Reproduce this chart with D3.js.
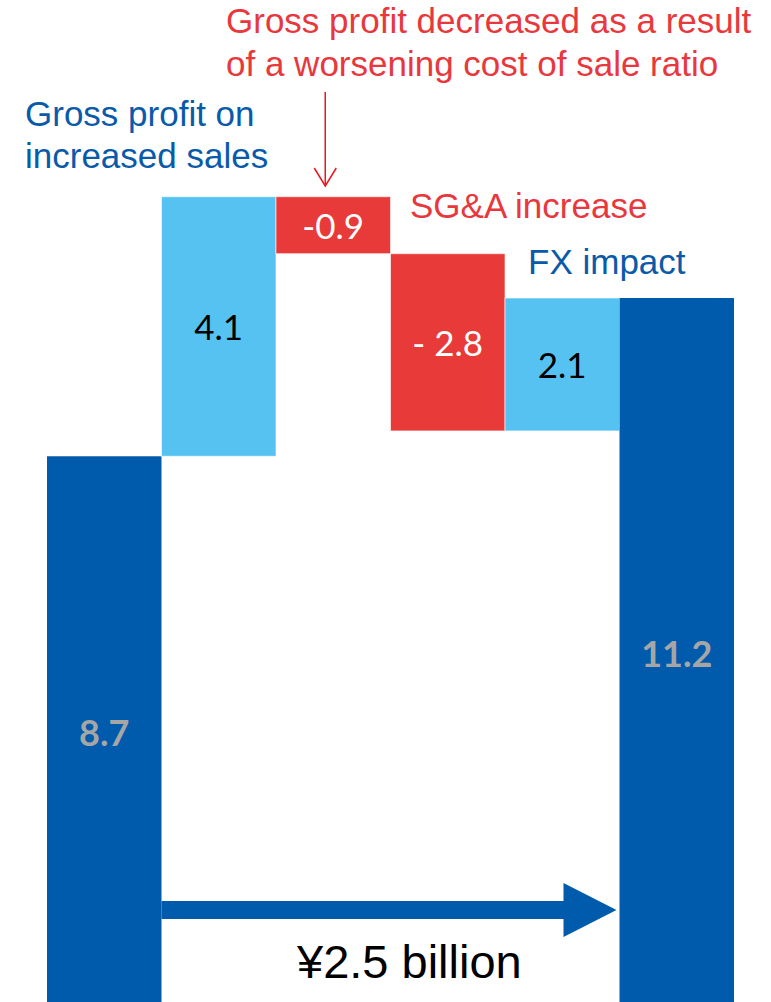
<!DOCTYPE html>
<html lang="en">
<head>
    <meta charset="utf-8">
    <title>Gross profit bridge</title>
    <script src="https://d3js.org/d3.v7.min.js"></script>
    <style>
        body { margin: 0; background: #fff; }
    </style>
</head>
<body>
<div id="chart"></div>
<script>
    // Data (¥ billion)
    const categories = ["start", "sales", "costRatio", "sga", "fx", "end"];
    const values = [8.7, 4.1, -0.9, -2.8, 2.1, 11.2];
    const kinds = ["total", "delta", "delta", "delta", "delta", "total"];
    const valueLabels = ["8.7", "4.1", "-0.9", "- 2.8", "2.1", "11.2"];
    const changeLabel = "¥2.5 billion";

    const width = 771, height = 1002;
    const colors = {total: "#005BAC", up: "#56C2F1", down: "#E83A38"};

    const svg = d3.select("#chart")
        .append("svg")
        .attr("width", width)
        .attr("height", height);

    // Scales
    const x = d3.scaleBand().domain(categories).range([47, 734]).padding(0);
    const y = d3.scaleLinear().domain([0, 11.2]).range([1007, 298]);

    // Build the waterfall pieces
    let running = 0;
    const bars = categories.map((c, i) => {
        let lo, hi;
        if (kinds[i] === "total") {
            lo = 0; hi = values[i]; running = values[i];
        } else {
            const next = running + values[i];
            lo = Math.min(running, next); hi = Math.max(running, next);
            running = next;
        }
        const fill = kinds[i] === "total" ? colors.total : (values[i] >= 0 ? colors.up : colors.down);
        const textFill = kinds[i] === "total" ? "#A6A6A6" : (values[i] >= 0 ? "#000" : "#fff");
        return {cat: c, lo, hi, fill, textFill, label: valueLabels[i], total: kinds[i] === "total"};
    });

    svg.append("g")
        .selectAll("rect")
        .data(bars)
        .join("rect")
        .attr("x", d => x(d.cat))
        .attr("width", x.bandwidth())
        .attr("y", d => y(d.hi))
        .attr("height", d => y(d.lo) - y(d.hi))
        .attr("fill", d => d.fill)
        .attr("stroke", d => d.total ? "none" : "#ffffff")
        .attr("stroke-opacity", 0.6)
        .attr("stroke-width", 1);

    svg.append("g")
        .selectAll("text")
        .data(bars)
        .join("text")
        .attr("x", d => x(d.cat) + x.bandwidth() / 2)
        .attr("y", d => (y(d.lo) + y(d.hi)) / 2)
        .attr("text-anchor", "middle")
        .attr("dominant-baseline", "central")
        .attr("font-family", "Lato, 'Open Sans', sans-serif")
        .attr("font-size", d => d.total ? 36 : 35)
        .attr("font-weight", d => d.total ? "bold" : "normal")
        .attr("fill", d => d.textFill)
        .text(d => d.label);

    // Annotations
    const ann = svg.append("g").attr("font-family", "'Liberation Sans', Arial, sans-serif");

    ann.append("text").attr("x", 226).attr("y", 33).attr("font-size", 35).attr("fill", "#E8383D")
        .text("Gross profit decreased as a result");
    ann.append("text").attr("x", 226).attr("y", 76).attr("font-size", 35).attr("fill", "#E8383D")
        .text("of a worsening cost of sale ratio");

    ann.append("text").attr("x", 25).attr("y", 126).attr("font-size", 35).attr("fill", "#0A5AAA")
        .text("Gross profit on");
    ann.append("text").attr("x", 25).attr("y", 168).attr("font-size", 35).attr("fill", "#0A5AAA")
        .text("increased sales");

    ann.append("text").attr("x", 410).attr("y", 218).attr("font-size", 35).attr("fill", "#E8383D")
        .text("SG&A increase");
    ann.append("text").attr("x", 528).attr("y", 274).attr("font-size", 35).attr("fill", "#0A5AAA")
        .text("FX impact");

    // thin red arrow pointing at the cost ratio bar
    const ax = x("costRatio") + x.bandwidth() / 2 - 8;
    svg.append("line")
        .attr("x1", ax).attr("x2", ax).attr("y1", 92).attr("y2", 186)
        .attr("stroke", "#E8191F").attr("stroke-width", 1.5);
    svg.append("path")
        .attr("d", `M${ax - 11},168 L${ax},186 L${ax + 11},168`)
        .attr("fill", "none").attr("stroke", "#E8191F").attr("stroke-width", 1.5);

    // thick blue arrow between the two totals
    const startX = x("sales");
    const tipX = x("end") - 3;
    const ay = 910;
    svg.append("path")
        .attr("d", `M${startX},${ay - 9} L${tipX - 53},${ay - 9} L${tipX - 53},${ay - 27}
                    L${tipX},${ay} L${tipX - 53},${ay + 27} L${tipX - 53},${ay + 9} L${startX},${ay + 9} Z`)
        .attr("fill", colors.total);

    svg.append("text")
        .attr("x", 297)
        .attr("y", 978)
        .attr("font-family", "'Liberation Sans', Arial, sans-serif")
        .attr("font-size", 47)
        .attr("fill", "#000")
        .text(changeLabel);
</script>
</body>
</html>
